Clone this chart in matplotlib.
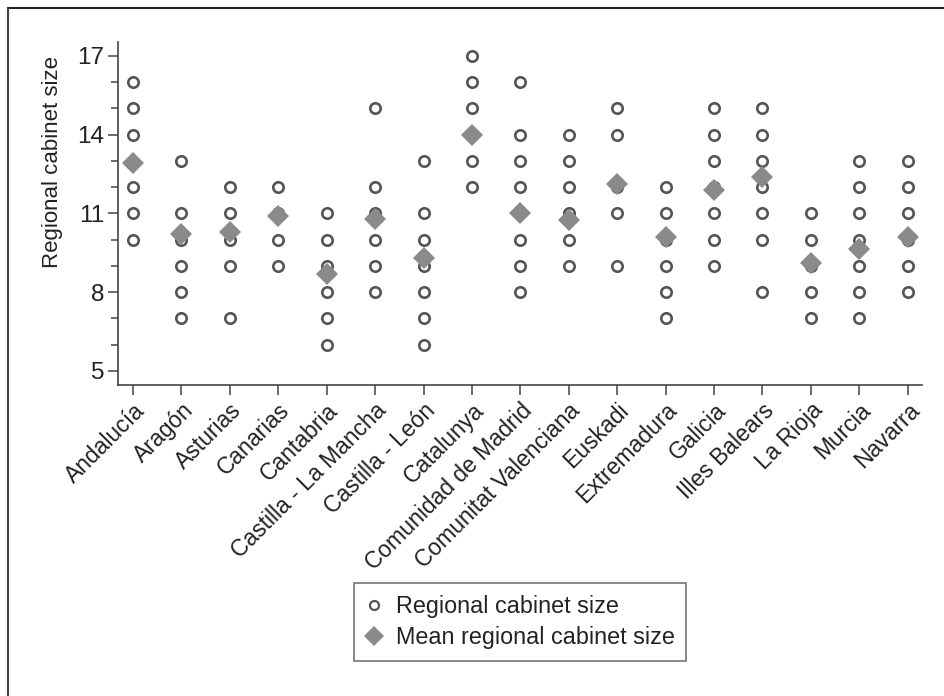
import matplotlib.pyplot as plt
from matplotlib.lines import Line2D

plt.rcParams["font.family"] = ["Liberation Sans", "DejaVu Sans"]

regions = [
    "Andalucía", "Aragón", "Asturias", "Canarias", "Cantabria",
    "Castilla - La Mancha", "Castilla - León", "Catalunya",
    "Comunidad de Madrid", "Comunitat Valenciana", "Euskadi",
    "Extremadura", "Galicia", "Illes Balears", "La Rioja", "Murcia",
    "Navarra",
]

# distinct cabinet sizes observed per region
cabinet_sizes = [
    [16, 15, 14, 12, 11, 10],
    [13, 11, 10, 9, 8, 7],
    [12, 11, 10, 9, 7],
    [12, 11, 10, 9],
    [11, 10, 9, 8, 7, 6],
    [15, 12, 11, 10, 9, 8],
    [13, 11, 10, 9, 8, 7, 6],
    [17, 16, 15, 13, 12],
    [16, 14, 13, 12, 10, 9, 8],
    [14, 13, 12, 11, 10, 9],
    [15, 14, 12, 11, 9],
    [12, 11, 10, 9, 8, 7],
    [15, 14, 13, 12, 11, 10, 9],
    [15, 14, 13, 12, 11, 10, 8],
    [11, 10, 9, 8, 7],
    [13, 12, 11, 10, 9, 8, 7],
    [13, 12, 11, 10, 9, 8],
]

mean_sizes = [12.9, 10.2, 10.3, 10.9, 8.7, 10.8, 9.3, 14.0, 11.0,
              10.75, 12.1, 10.1, 11.9, 12.4, 9.1, 9.65, 10.1]

y_major = [5, 8, 11, 14, 17]
y_minor = list(range(5, 18))

circle_color = "#555555"
diamond_color = "#8a8a8a"
axis_color = "#444444"
text_color = "#222222"

fig = plt.figure(figsize=(9.44, 6.96), dpi=100)
ax = fig.add_axes([0.125, 0.447, 0.852, 0.493])

for i, sizes in enumerate(cabinet_sizes):
    ax.plot([i] * len(sizes), sizes, linestyle="none", marker="o",
            markersize=7.5, markerfacecolor="none",
            markeredgecolor=circle_color, markeredgewidth=1.9)
ax.plot(range(len(regions)), mean_sizes, linestyle="none", marker="D",
        markersize=11, color=diamond_color, markeredgewidth=0)

ax.set_xlim(-0.31, len(regions) - 1 + 0.3)
ax.set_ylim(4.47, 17.53)
ax.set_yticks(y_major)
ax.set_yticks(y_minor, minor=True)
ax.set_xticks(range(len(regions)))
ax.set_xticklabels(regions, rotation=45, ha="right", rotation_mode="anchor",
                   fontsize=16.5, color=text_color)
ax.tick_params(axis="y", labelsize=17.5, labelcolor=text_color)
ax.tick_params(axis="both", which="major", length=7, width=1.1,
               color=axis_color, pad=3)
ax.tick_params(axis="y", which="minor", length=5, width=1.1, color=axis_color)
ax.set_ylabel("Regional cabinet size", fontsize=16, color=text_color)
ax.yaxis.set_label_coords(-0.068, 0.65)

for side in ("top", "right"):
    ax.spines[side].set_visible(False)
for side in ("left", "bottom"):
    ax.spines[side].set_color(axis_color)
    ax.spines[side].set_linewidth(1.2)

handles = [
    Line2D([], [], linestyle="none", marker="o", markersize=6.5,
           markerfacecolor="none", markeredgecolor=circle_color,
           markeredgewidth=1.6, label="Regional cabinet size"),
    Line2D([], [], linestyle="none", marker="D", markersize=10,
           color=diamond_color, markeredgewidth=0,
           label="Mean regional cabinet size"),
]
leg = fig.legend(handles=handles, loc="center", bbox_to_anchor=(0.551, 0.106),
                 fontsize=16.8, frameon=True, fancybox=False, handlelength=0.7,
                 handletextpad=0.6, borderpad=0.5, labelspacing=0.35)
leg.get_frame().set_edgecolor("#555555")
leg.get_frame().set_linewidth(1.2)
for txt in leg.get_texts():
    txt.set_color(text_color)

# outer frame, only top and left edges fall inside the image
fig.add_artist(Line2D([0.009, 1.0], [0.988, 0.988], color="#222222",
                      linewidth=1.5, transform=fig.transFigure))
fig.add_artist(Line2D([0.009, 0.009], [0.0, 0.988], color="#444444",
                      linewidth=1.5, transform=fig.transFigure))

fig.savefig("out.png", dpi=100)
